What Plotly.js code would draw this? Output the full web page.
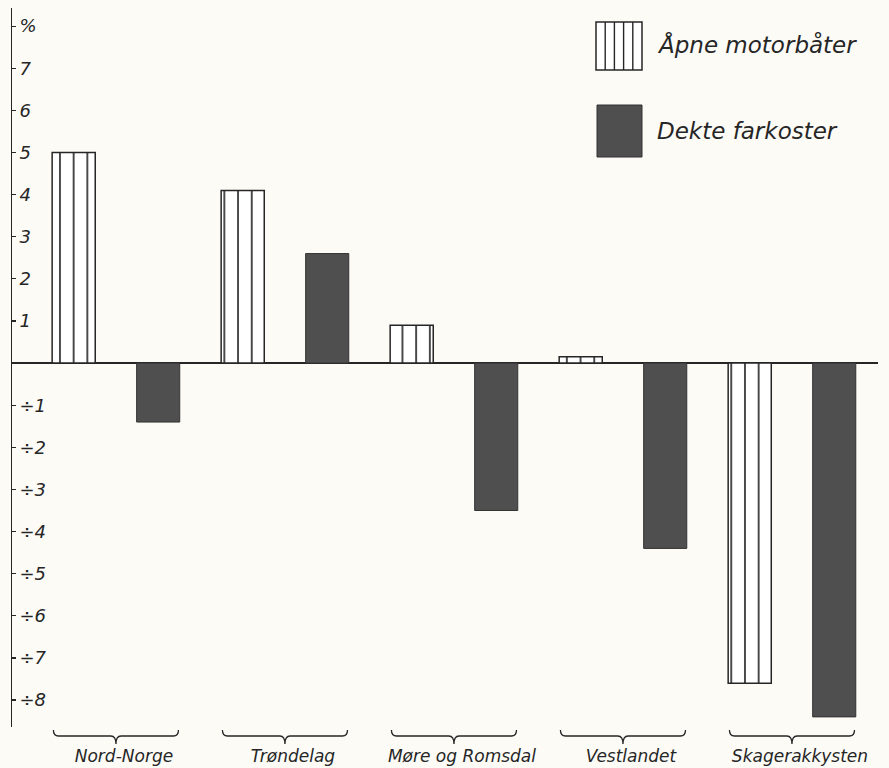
<!DOCTYPE html>
<html>
<head>
<meta charset="utf-8">
<script src="https://cdn.plot.ly/plotly-3.0.1.min.js"></script>
<style>html,body{margin:0;padding:0;background:#fcfbf6;}#chart{width:889px;height:768px;}</style>
</head>
<body>
<div id="chart"></div>
<script>
// Data
const categories = ["Nord-Norge", "Trøndelag", "Møre og Romsdal", "Vestlandet", "Skagerakkysten"];
const seriesNames = ["Åpne motorbåter", "Dekte farkoster"];
const apneMotorbater = [5.0, 4.1, 0.9, 0.15, -7.6];
const dekteFarkoster = [-1.4, 2.6, -3.5, -4.4, -8.4];
const yTickVals = [8, 7, 6, 5, 4, 3, 2, 1, -1, -2, -3, -4, -5, -6, -7, -8];
const yTickText = ["%", "7", "6", "5", "4", "3", "2", "1", "÷1", "÷2", "÷3", "÷4", "÷5", "÷6", "÷7", "÷8"];

const idx = categories.map((_, i) => i);
const FONT = "DejaVu Sans, Liberation Sans, sans-serif";
const INK = "#262626";

// geometry helpers (pixel -> paper) for decoration
const W = 889, H = 768, ML = 12, MR = 11, MT = 8, MB = 41;
const PW = W - ML - MR, PH = H - MT - MB;
const px = p => (p - ML) / PW;
const py = p => (H - MB - p) / PH;

const traces = [
  {
    type: "bar", name: seriesNames[0], x: idx, y: apneMotorbater,
    marker: {
      color: "white",
      line: {color: INK, width: 1.5},
      pattern: {shape: "|", size: 13.7, solidity: 0.12, fgcolor: INK, bgcolor: "white", fillmode: "replace"}
    },
    showlegend: false, hoverinfo: "x+y"
  },
  {
    type: "bar", name: seriesNames[1], x: idx, y: dekteFarkoster,
    marker: {color: "#4f4f4f", line: {color: "#333", width: 1}},
    showlegend: false, hoverinfo: "x+y"
  }
];

const shapes = [];
// braces under each category
idx.forEach(c => {
  const x0 = c - 0.37, x1 = c + 0.37, d = 0.03;
  const yt = py(730), ym = py(736), yb = py(744);
  shapes.push({
    type: "path", xref: "x", yref: "paper",
    path: `M ${x0},${yt} Q ${x0},${ym} ${x0 + d},${ym} L ${c - d},${ym} Q ${c},${ym} ${c},${yb} Q ${c},${ym} ${c + d},${ym} L ${x1 - d},${ym} Q ${x1},${ym} ${x1},${yt}`,
    line: {color: INK, width: 1.3}
  });
});
// legend boxes
shapes.push({type: "rect", xref: "paper", yref: "paper", x0: px(596), x1: px(642), y0: py(70), y1: py(22),
  fillcolor: "white", line: {color: INK, width: 1.5}});
for (let k = 1; k < 5; k++) {
  const xx = px(596 + k * 46 / 5);
  shapes.push({type: "line", xref: "paper", yref: "paper", x0: xx, x1: xx, y0: py(70), y1: py(22),
    line: {color: INK, width: 1.4}});
}
shapes.push({type: "rect", xref: "paper", yref: "paper", x0: px(597), x1: px(642), y0: py(157), y1: py(105),
  fillcolor: "#4f4f4f", line: {color: "#333", width: 1}});

const annotations = [
  {xref: "paper", yref: "paper", x: px(655), y: py(44), xanchor: "left", yanchor: "middle", showarrow: false,
   text: seriesNames[0], font: {family: FONT, size: 23, color: INK, style: "italic"}},
  {xref: "paper", yref: "paper", x: px(655), y: py(131), xanchor: "left", yanchor: "middle", showarrow: false,
   text: seriesNames[1], font: {family: FONT, size: 23, color: INK, style: "italic"}}
];

const layout = {
  width: W, height: H,
  margin: {l: ML, r: MR, t: MT, b: MB, pad: 0},
  paper_bgcolor: "#fcfbf6", plot_bgcolor: "#fcfbf6",
  barmode: "group", bargap: 0, bargroupgap: 0.49,
  showlegend: false,
  font: {family: FONT, color: INK, style: "italic"},
  xaxis: {
    range: [-0.615, 4.509], tickvals: idx, ticktext: categories,
    showgrid: false, zeroline: false, showline: false, ticks: "",
    ticklabelstandoff: 17, ticklabelshift: 8,
    tickfont: {family: FONT, size: 17, color: INK, style: "italic"}
  },
  yaxis: {
    range: [-8.64, 8.43], tickvals: yTickVals, ticktext: yTickText,
    showgrid: false, zeroline: true, zerolinecolor: INK, zerolinewidth: 1.5,
    showline: true, linecolor: INK, linewidth: 1.5,
    ticks: "inside", ticklen: 4, tickcolor: INK, tickwidth: 1.2,
    ticklabelposition: "inside", ticklabelstandoff: 4,
    tickfont: {family: FONT, size: 18, color: INK, style: "italic"}
  },
  shapes: shapes,
  annotations: annotations
};

Plotly.newPlot("chart", traces, layout, {displayModeBar: false, staticPlot: true});
</script>
</body>
</html>
